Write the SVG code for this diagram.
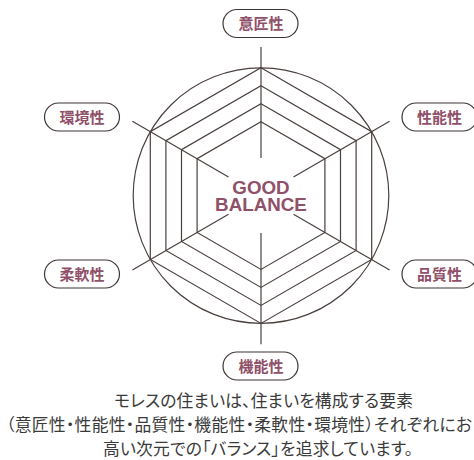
<svg xmlns="http://www.w3.org/2000/svg" width="474" height="460" viewBox="0 0 474 460">
<style>
.ln{fill:none;stroke:#4a403e;stroke-width:1.2}
.pill{fill:#fff;stroke:#3d3533;stroke-width:1.2}
.lbl{font-family:"Noto Sans CJK JP","Noto Sans",sans-serif;font-weight:700;font-size:15px;fill:#8f5069;text-anchor:middle}
.gb{font-family:"Liberation Sans",Arial,sans-serif;font-weight:700;font-size:18.8px;fill:#8f5069;text-anchor:middle}
.cap{font-family:"Noto Sans CJK JP","Noto Sans",sans-serif;font-size:16.8px;fill:#3a3a3a;font-feature-settings:"palt"}
</style>
<rect width="474" height="460" fill="#fff"/>
<g id="chart">
<circle cx="261" cy="195.6" r="127.8" class="ln"/>
<polygon points="261,67.8 371.7,131.7 371.7,259.5 261,323.4 150.3,259.5 150.3,131.7" fill="#f0f2f2" class="ln"/>
<polygon points="261,85.8 356.1,140.7 356.1,250.5 261,305.4 165.9,250.5 165.9,140.7" class="ln"/>
<polygon points="261,103.8 340.5,149.7 340.5,241.5 261,287.4 181.5,241.5 181.5,149.7" class="ln"/>
<polygon points="261,121.8 324.9,158.7 324.9,232.5 261,269.4 197.1,232.5 197.1,158.7" class="ln"/>
</g>
<g id="connectors">
<line x1="261" y1="47" x2="261" y2="158.1" class="ln"/>
<line x1="261" y1="233.1" x2="261" y2="344.2" class="ln"/>
<line x1="389.6" y1="121.3" x2="293.5" y2="176.9" class="ln"/>
<line x1="132.4" y1="121.3" x2="228.5" y2="176.9" class="ln"/>
<line x1="389.6" y1="269.9" x2="293.5" y2="214.3" class="ln"/>
<line x1="132.4" y1="269.9" x2="228.5" y2="214.3" class="ln"/>
</g>
<g id="center-label">
<text x="261" y="193.5" class="gb">GOOD</text>
<text x="261" y="210.5" class="gb">BALANCE</text>
</g>
<g id="n-ishou"><rect x="223" y="9.5" width="75" height="28" rx="14" class="pill"/><text x="261" y="29" class="lbl">意匠性</text></g>
<g id="n-seino"><rect x="402" y="103" width="75" height="28" rx="14" class="pill"/><text x="439.5" y="122.5" class="lbl">性能性</text></g>
<g id="n-hinshitsu"><rect x="402" y="260" width="75" height="28" rx="14" class="pill"/><text x="439.5" y="279.5" class="lbl">品質性</text></g>
<g id="n-kino"><rect x="223" y="352" width="75" height="28" rx="14" class="pill"/><text x="261" y="371.5" class="lbl">機能性</text></g>
<g id="n-junan"><rect x="44.5" y="260" width="75" height="28" rx="14" class="pill"/><text x="82" y="279.5" class="lbl">柔軟性</text></g>
<g id="n-kankyo"><rect x="44.5" y="103" width="75" height="28" rx="14" class="pill"/><text x="82" y="122.5" class="lbl">環境性</text></g>
<g id="caption">
<text x="114" y="406.5" class="cap" textLength="299" lengthAdjust="spacing">モレスの住まいは、住まいを構成する要素</text>
<text x="6" y="430.5" class="cap" textLength="466" lengthAdjust="spacing">（意匠性・性能性・品質性・機能性・柔軟性・環境性）それぞれにお</text>
<text x="103" y="454.5" class="cap" textLength="310" lengthAdjust="spacing">高い次元での「バランス」を追求しています。</text>
</g>
</svg>
